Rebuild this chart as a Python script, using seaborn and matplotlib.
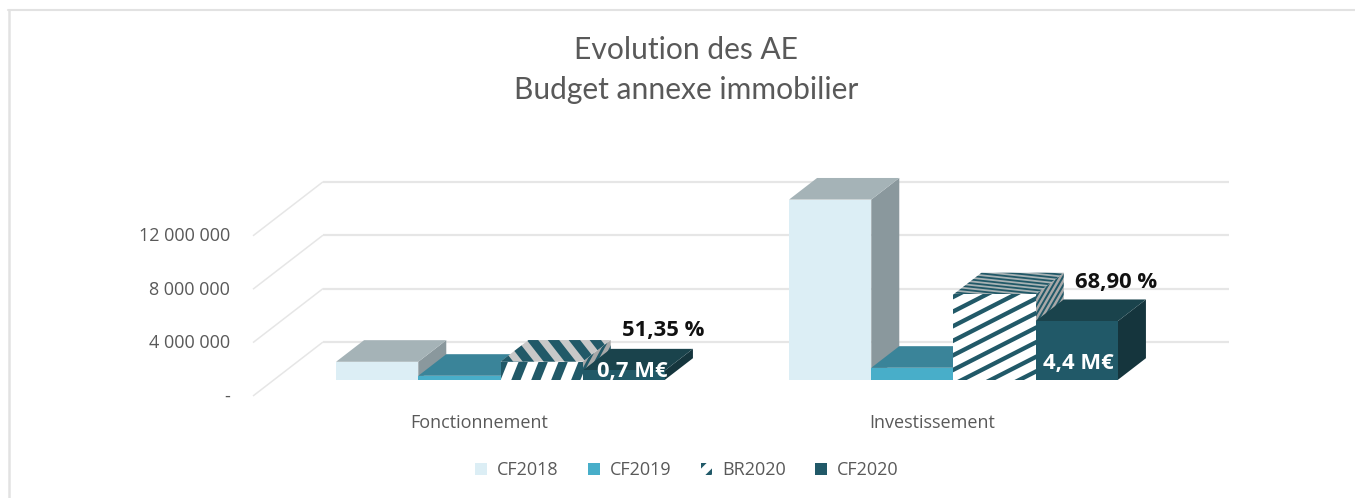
import matplotlib
matplotlib.use("Agg")
import matplotlib.pyplot as plt
import numpy as np
import pandas as pd
import seaborn as sns
from matplotlib.collections import LineCollection
from matplotlib.lines import Line2D
from matplotlib.patches import Patch, Polygon
from matplotlib.transforms import Affine2D, IdentityTransform, ScaledTranslation

# ---- data -------------------------------------------------------------
categories = ["Fonctionnement", "Investissement"]
series_names = ["CF2018", "CF2019", "BR2020", "CF2020"]
cf2018 = [1350000, 13500000]
cf2019 = [300000, 900000]
br2020 = [1360000, 6400000]
cf2020 = [700000, 4400000]
y_ticks = [0, 4000000, 8000000, 12000000]
y_tick_labels = ["-", "4 000 000", "8 000 000", "12 000 000"]
pct_labels = ["51,35 %", "68,90 %"]
meur_labels = ["0,7 M€", "4,4 M€"]

# ---- style ------------------------------------------------------------
W, H = 1355, 498
FONT = "Lato"
SMALL_FONT = "Open Sans"
GREY = "#595959"
GRID = "#E6E6E6"
DARK = "#215968"
FRONT = ["#DCEEF5", "#48AEC9", "#FFFFFF", "#215968"]
TOP = ["#A5B3B7", "#3A8499", "#C8C8C8", "#1A434C"]
SIDE = ["#8A989D", "#2F6C7E", "#A8A8A8", "#15353D"]

sns.set_theme(style="white")
plt.rcParams["font.family"] = [SMALL_FONT, "DejaVu Sans"]
plt.rcParams["hatch.linewidth"] = 3.0

fig = plt.figure(figsize=(W / 100, H / 100), dpi=100)
fig.patch.set_facecolor("white")

PX_PER_VALUE = 13.35 / 1e6
PX_PER_CAT = 453
AX_L, AX_R, AX_B, AX_T = 253, 1229, 396, 182
ax = fig.add_axes([AX_L / W, (H - AX_B) / H, (AX_R - AX_L) / W, (AX_B - AX_T) / H])
ax.patch.set_alpha(0)

df = pd.DataFrame(
    {
        "poste": categories * len(series_names),
        "serie": np.repeat(series_names, len(categories)),
        "valeur": cf2018 + cf2019 + br2020 + cf2020,
    }
)
sns.barplot(
    data=df, x="poste", y="valeur", hue="serie", hue_order=series_names,
    palette=FRONT, width=0.726, gap=0, saturation=1, legend=False, ax=ax,
    errorbar=None,
)

x_low = -0.5
x_high = x_low + (AX_R - AX_L) / PX_PER_CAT
ax.set_xlim(x_low, x_high)
ax.set_ylim(0, (AX_B - AX_T) / PX_PER_VALUE)

# Oblique depth projection: depth 0 = front floor edge, depth 1 = back wall
DX = 70 / PX_PER_CAT
DY = 54 / PX_PER_VALUE
D_FRONT, D_BACK = 0.30, 0.70


def proj(x, y, d):
    return (x + d * DX, y + d * DY)


# Walls / grid
for t in y_ticks:
    x0, y0 = proj(x_low, t, 0)
    x1, y1 = proj(x_low, t, 1)
    ax.plot([x0, x1], [y0, y1], color=GRID, lw=1.1, zorder=0.5, clip_on=False,
            solid_capstyle="butt")
    ax.plot([x1, x_high], [y1, y1], color=GRID, lw=1.6, zorder=0.5, clip_on=False,
            solid_capstyle="butt")


def stripes(poly_xy, clip_patch, angle, spacing, lw, color, zorder, phase=0.0):
    """Diagonal stripes in pixel space, clipped to a bar face."""
    pts = ax.transData.transform(poly_xy)
    c = pts.mean(axis=0)
    a = np.deg2rad(angle)
    t = np.array([np.cos(a), np.sin(a)])
    n = np.array([-t[1], t[0]])
    r = np.ptp(pts, axis=0).sum() + spacing
    count = int(r / spacing) + 1
    segs = []
    for k in range(-count, count + 1):
        p = c + (k + phase) * spacing * n
        segs.append([p - r * t, p + r * t])
    lc = LineCollection(segs, colors=color, linewidths=lw, transform=IdentityTransform(),
                        zorder=zorder)
    ax.add_collection(lc, autolim=False)
    lc.set_clip_path(clip_patch)


# per-category stripe settings for the BR2020 faces: (angle, spacing, lw, phase)
FRONT_ST = [(68, 18.5, 6.2, 0.1), (27, 13.0, 3.1, 0.2)]
TOP_ST = [(-52, 16.5, 6.5, 0.3), (-6, 3.6, 1.3, 0.0)]
SIDE_ST = [(62, 7.0, 2.0, 0.0), (60, 4.4, 1.4, 0.0)]

order = 0
shift = Affine2D().translate(D_FRONT * DX, D_FRONT * DY)
front_bars = {}
for i, container in enumerate(ax.containers):
    for j, bar in enumerate(container):
        x0, w, h = bar.get_x(), bar.get_width(), bar.get_height()
        x1 = x0 + w
        z_side, z_top, z_front = 2 + order, 2.01 + order, 2.02 + order
        side = [proj(x1, 0, D_FRONT), proj(x1, 0, D_BACK), proj(x1, h, D_BACK), proj(x1, h, D_FRONT)]
        top = [proj(x0, h, D_FRONT), proj(x1, h, D_FRONT), proj(x1, h, D_BACK), proj(x0, h, D_BACK)]
        front = [proj(x0, 0, D_FRONT), proj(x1, 0, D_FRONT), proj(x1, h, D_FRONT), proj(x0, h, D_FRONT)]
        top_color = TOP[i]
        if series_names[i] == "BR2020" and j == 1:
            top_color = "#A8B2B4"
        ps = Polygon(side, closed=True, fc=SIDE[i], ec="none", zorder=z_side, clip_on=False)
        pt = Polygon(top, closed=True, fc=top_color, ec="none", zorder=z_top, clip_on=False)
        ax.add_patch(ps)
        ax.add_patch(pt)
        bar.set_transform(shift + ax.transData)
        bar.set_clip_on(False)
        bar.set_zorder(z_front)
        bar.set_edgecolor("none")
        bar.set_linewidth(0)
        if series_names[i] == "BR2020":
            a, s, l, p = SIDE_ST[j]
            stripes(side, ps, a, s, l, DARK, z_side + 0.001, p)
            a, s, l, p = TOP_ST[j]
            stripes(top, pt, a, s, l, DARK, z_top + 0.001, p)
            clip = Polygon(front, closed=True, fc="white", ec="none", zorder=z_front, clip_on=False)
            ax.add_patch(clip)
            a, s, l, p = FRONT_ST[j]
            stripes(front, clip, a, s, l, DARK, z_front + 0.001, p)
        front_bars[(i, j)] = (x0, x1, h)
        order += 1

# ---- axes text --------------------------------------------------------
ax.set_xlabel("")
ax.set_ylabel("")
for s in ax.spines.values():
    s.set_visible(False)
ax.set_yticks(y_ticks)
ax.set_yticklabels(y_tick_labels)
ax.tick_params(axis="y", length=0, pad=16.5, labelsize=13, labelcolor=GREY)
ax.tick_params(axis="x", length=0, pad=13, labelsize=13, labelcolor=GREY)
ax.grid(False)
nudge = ScaledTranslation(0, 1.5 / 100, fig.dpi_scale_trans)
for lab in ax.get_yticklabels():
    lab.set_transform(lab.get_transform() + nudge)

# Data labels, anchored on the CF2020 bars
i_cf20 = series_names.index("CF2020")
offs_in = [(-33, -1), (-40, -42)]
offs_pct = [(-2, 40), (-2, 39)]
for j in range(len(categories)):
    x0, x1, h = front_bars[(i_cf20, j)]
    anchor = (x1 + D_FRONT * DX, h + D_FRONT * DY)
    ax.annotate(meur_labels[j], xy=anchor, xycoords="data",
                xytext=offs_in[j], textcoords="offset pixels", ha="center", va="center",
                color="white", fontweight="bold", fontsize=15.8, zorder=50, annotation_clip=False)
    ax.annotate(pct_labels[j], xy=anchor, xycoords="data",
                xytext=offs_pct[j], textcoords="offset pixels", ha="center", va="center",
                color="#111111", fontweight="bold", fontsize=15.8, zorder=50, annotation_clip=False)

# Title
fig.text(686 / W, 1 - 70 / H, "Evolution des AE\nBudget annexe immobilier", ha="center",
         va="center", color=GREY, fontsize=21.6, linespacing=1.5, family=[FONT, "DejaVu Sans"])

# Legend
handles = []
for i, name in enumerate(series_names):
    if name == "BR2020":
        handles.append(Patch(facecolor="white", edgecolor=DARK, hatch="//", linewidth=0, label=name))
    else:
        handles.append(Patch(facecolor=FRONT[i], edgecolor="none", label=name))
fig.legend(handles=handles, loc="center", bbox_to_anchor=(687 / W, 1 - 470 / H), ncol=4,
           frameon=False, fontsize=13, labelcolor=GREY, handlelength=0.66, handleheight=0.66,
           handletextpad=0.55, columnspacing=1.62)

# Chart-area frame (top and left edges only are inside the picture)
fig.add_artist(Line2D([9 / W, 9 / W], [1 - 10 / H, 0], color="#E2E2E2", lw=1.8))
fig.add_artist(Line2D([8 / W, 1], [1 - 10 / H, 1 - 10 / H], color="#E2E2E2", lw=1.5))

fig.savefig("out.png", dpi=100, facecolor="white")
